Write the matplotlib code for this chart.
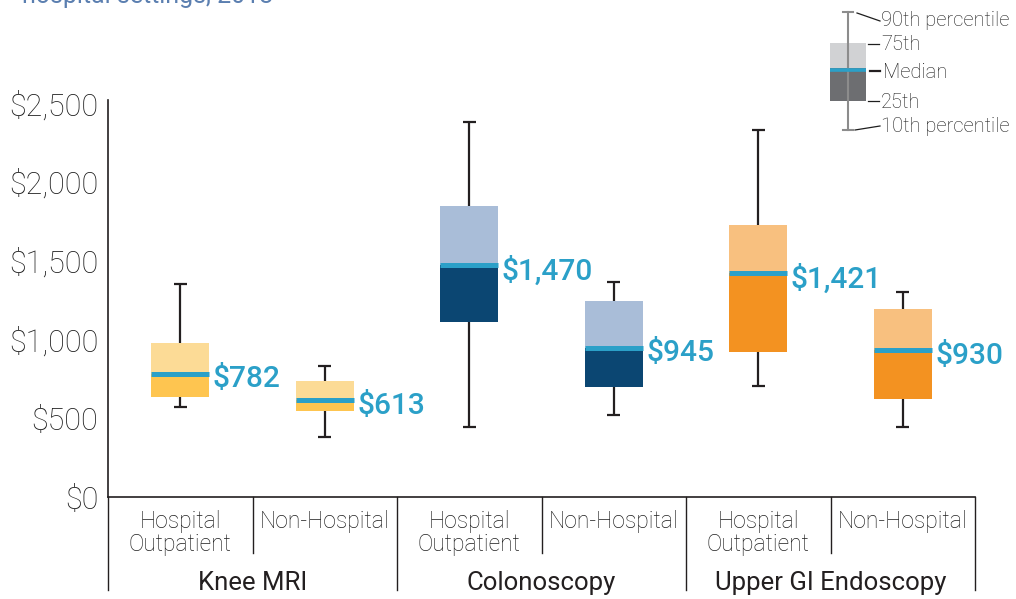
import numpy as np
import matplotlib.pyplot as plt

plt.rcParams['font.family'] = ['Roboto', 'DejaVu Sans']

# Data (dollars)
procedures = ['Knee MRI', 'Colonoscopy', 'Upper GI Endoscopy']
settings = ['Hospital\nOutpatient', 'Non-Hospital']
p10 = [571, 381, 444, 520, 704, 444]
p25 = [635, 546, 1110, 698, 920, 622]
median = [782, 613, 1470, 945, 1421, 930]
p75 = [977, 736, 1846, 1244, 1726, 1193]
p90 = [1351, 831, 2380, 1364, 2329, 1300]
median_labels = ['$782', '$613', '$1,470', '$945', '$1,421', '$930']
yticks = [0, 500, 1000, 1500, 2000, 2500]
ytick_labels = ['$0', '$500', '$1,000', '$1,500', '$2,000', '$2,500']

light_colors = ['#FCDB96', '#FCDB96', '#A9BDD8', '#A9BDD8', '#F8C07F', '#F8C07F']
dark_colors = ['#FEC550', '#FEC550', '#0B4672', '#0B4672', '#F39221', '#F39221']
BLUE = '#2BA0C8'
INK = '#231F20'
TEXT = '#1E1E1E'

fig = plt.figure(figsize=(10.16, 5.99), dpi=100)
ax = fig.add_axes([108 / 1016, 1 - 497 / 599, 867 / 1016, 397 / 599])
x = np.arange(len(median))
w = 0.4

# boxes
ax.bar(x, np.array(median) - np.array(p25), bottom=p25, width=w, color=dark_colors, lw=0)
ax.bar(x, np.array(p75) - np.array(median), bottom=median, width=w, color=light_colors, lw=0)
ax.hlines(median, x - w / 2, x + w / 2, color=BLUE, lw=3.6, capstyle='butt', zorder=3)

# whiskers
ax.vlines(x, p75, p90, color=INK, lw=1.6)
ax.vlines(x, p10, p25, color=INK, lw=1.6)
ax.hlines(p90, x - 0.045, x + 0.045, color=INK, lw=1.6)
ax.hlines(p10, x - 0.045, x + 0.045, color=INK, lw=1.6)

for xi, m, lab in zip(x, median, median_labels):
    ax.text(xi + w / 2 + 0.025, m - 34, lab, color=BLUE, fontsize=21.5, fontweight='medium',
            ha='left', va='center')

ax.set_xlim(-0.5, 5.5)
ax.set_ylim(0, 2519)
ax.set_yticks(yticks)
ax.set_yticklabels(ytick_labels, fontsize=22, color=TEXT, fontweight='light')
ax.tick_params(axis='y', length=0, pad=7)
ax.set_xticks([])
for s in ['top', 'right']:
    ax.spines[s].set_visible(False)
ax.spines['left'].set_color(INK)
ax.spines['bottom'].set_color(INK)
ax.spines['left'].set_linewidth(1.2)
ax.spines['bottom'].set_linewidth(1.2)

# category brackets below the axis
tr = ax.get_xaxis_transform()
for i in range(7):
    xb = i - 0.5
    long = i % 2 == 0
    y_end = -93 / 397 if long else -56 / 397
    ax.plot([xb, xb], [0, y_end], color=INK, lw=1, transform=tr, clip_on=False)

for i in range(6):
    ax.text(i, -13 / 397, settings[i % 2], transform=tr, ha='center', va='top',
            fontsize=16.5, color=TEXT, fontweight='light', linespacing=1.02)
for j, p in enumerate(procedures):
    ax.text(2 * j + 0.5, -86 / 397, p, transform=tr, ha='center', va='center',
            fontsize=18.5, color=INK)

# cut-off subtitle at the very top
fig.text(22 / 1016, 1 - 3 / 599, 'hospital settings, 2018', color='#5B7FB0',
         fontsize=18, va='baseline', ha='left')

# legend key drawn in pixel space
lg = fig.add_axes([0, 0, 1, 1], zorder=5)
lg.set_xlim(0, 1016)
lg.set_ylim(599, 0)
lg.axis('off')
lg.plot([848, 848], [12, 130], color='#8C8C8C', lw=1.5)
lg.plot([843, 853], [12, 12], color='#8C8C8C', lw=1.5)
lg.plot([843, 853], [130, 130], color='#8C8C8C', lw=1.5)
lg.add_patch(plt.Rectangle((830, 43), 36, 25, color='#D1D2D4', lw=0))
lg.add_patch(plt.Rectangle((830, 68), 36, 33, color='#6D6E71', lw=0))
lg.plot([830, 866], [69.5, 69.5], color=BLUE, lw=2.6, solid_capstyle='butt')
lg.plot([857, 880], [13, 21], color=TEXT, lw=0.9)
lg.plot([868, 879], [44, 44], color=TEXT, lw=0.9)
lg.plot([870, 880], [71, 71], color=INK, lw=1.6)
lg.plot([868, 879], [101, 101], color=TEXT, lw=0.9)
lg.plot([855, 880], [130, 126], color=TEXT, lw=0.9)
leg_font = dict(fontsize=14.5, color=TEXT, va='center', ha='left', fontweight='light')
lg.text(881, 21, '90th percentile', **leg_font)
lg.text(881, 44, '75th', **leg_font)
lg.text(883, 72, 'Median', **leg_font)
lg.text(881, 103, '25th', **leg_font)
lg.text(881, 127, '10th percentile', **leg_font)

fig.savefig('out.png', dpi=100)
